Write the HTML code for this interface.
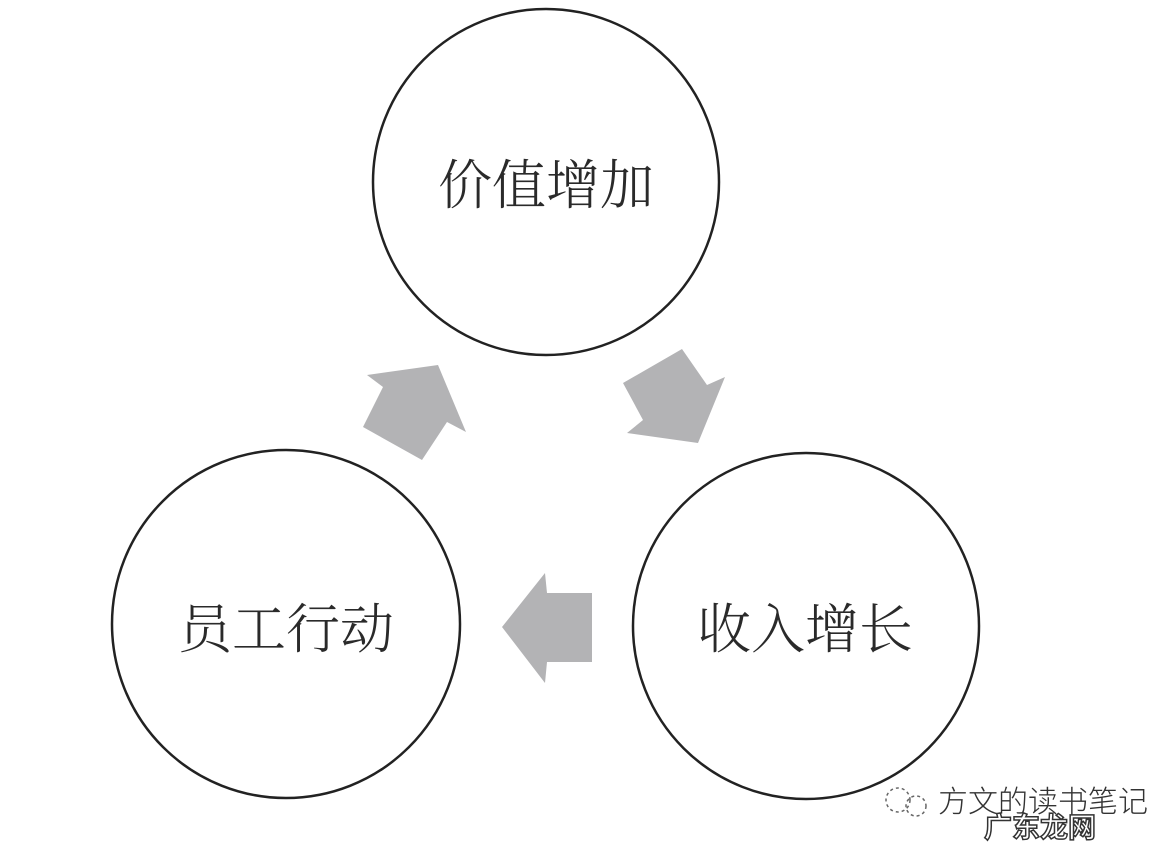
<!DOCTYPE html>
<html><head><meta charset="utf-8"><style>
html,body{margin:0;padding:0;background:#fff;}
svg{display:block}
text{font-family:"Liberation Serif","Noto Serif CJK SC",serif;fill:#2a2a2a;font-weight:300}
</style></head><body>
<svg width="1168" height="850" viewBox="0 0 1168 850">
<rect width="1168" height="850" fill="#fff"/>
<g fill="none" stroke="#222" stroke-width="2.5">
<circle cx="546" cy="182" r="173"/>
<circle cx="286" cy="624" r="174"/>
<circle cx="806" cy="626" r="173"/>
</g>
<g fill="#b3b3b5">
<polygon points="363,427 383,387 367,375 438,365 466,432 447,422 422,460"/>
<polygon points="623,383 682,349 707,385 725,377 698,443 627,433 643,420"/>
<polygon points="592,593 547,593 545,573 502,627 545,683 547,662 592,662"/>
</g>
<g font-size="54" text-anchor="middle">
<text x="546" y="204">价值增加</text>
<text x="286" y="648">员工行动</text>
<text x="805" y="648">收入增长</text>
</g>
<g fill="none" stroke="#666" stroke-width="1.5" stroke-dasharray="3,3">
<circle cx="898" cy="800" r="12"/>
<circle cx="916" cy="806" r="10"/>
</g>
<text x="938" y="812" font-size="30" style="fill:#333;font-family:'Liberation Sans','Noto Sans CJK SC',sans-serif">方文的读书笔记</text>
<text x="1040" y="837" font-size="28" style="fill:#fff;stroke:#333;stroke-width:1.5;font-weight:700;font-family:'Liberation Sans','Noto Sans CJK SC',sans-serif" text-anchor="middle">广东龙网</text>
</svg>
</body></html>
